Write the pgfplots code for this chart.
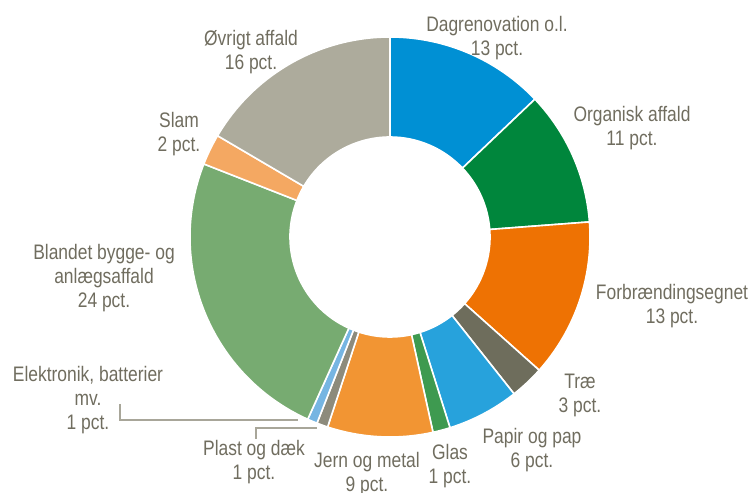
\documentclass[border=0pt]{standalone}
\usepackage{fontspec}
\setmainfont{Liberation Sans}[FakeStretch=0.83]
\usepackage{pgfplots}
\usepackage{pgfplotstable}
\pgfplotsset{compat=1.18}

\definecolor{cDag}{HTML}{0090D4}
\definecolor{cOrg}{HTML}{00863C}
\definecolor{cForb}{HTML}{EE7203}
\definecolor{cTrae}{HTML}{6E6D5C}
\definecolor{cPap}{HTML}{27A2DC}
\definecolor{cGlas}{HTML}{3E9A50}
\definecolor{cJern}{HTML}{F29533}
\definecolor{cPlast}{HTML}{8D8B7C}
\definecolor{cElek}{HTML}{76B5E2}
\definecolor{cBland}{HTML}{77AB71}
\definecolor{cSlam}{HTML}{F4A862}
\definecolor{cOevr}{HTML}{ADAB9C}
\definecolor{txt}{HTML}{706D5F}
\definecolor{lead}{HTML}{A8A699}

\tikzset{lbl/.style={font=\fontsize{21bp}{24bp}\selectfont,text=txt,align=center,inner sep=0pt,anchor=center}}

% shares in percent, clockwise from twelve o'clock
\pgfplotstableread{
value col
12.9  cDag
10.9  cOrg
12.8  cForb
2.75  cTrae
5.8   cPap
1.4   cGlas
8.5   cJern
0.9   cPlast
0.8   cElek
24.2  cBland
2.5   cSlam
16.55 cOevr
}\shares

\begin{document}
\begin{tikzpicture}
\begin{axis}[x=1bp,y=1bp,xmin=0,xmax=751,ymin=0,ymax=493,hide axis,clip=false]
\pgfplotstablegetrowsof{\shares}
\pgfmathtruncatemacro\last{\pgfplotsretval-1}
\def\cum{0}
\pgfplotsforeachungrouped \i in {0,...,\last}{%
  \pgfplotstablegetelem{\i}{value}\of\shares \let\val\pgfplotsretval
  \pgfplotstablegetelem{\i}{col}\of\shares \let\slicecol\pgfplotsretval
  \pgfmathsetmacro\angA{90-3.6*\cum}%
  \pgfmathsetmacro\angB{90-3.6*(\cum+\val)}%
  \edef\doslice{\noexpand\fill[\slicecol,draw=white,line width=1.6bp,line join=round]
    (axis cs:390,256) ++(\angA:200bp) arc[start angle=\angA,end angle=\angB,radius=200bp]
    -- ++(\angB:-100bp) arc[start angle=\angB,end angle=\angA,radius=100bp] -- cycle;}%
  \doslice
  \pgfmathsetmacro\cum{\cum+\val}%
}

% leader lines
\draw[lead,line width=1.6bp] (axis cs:120,89) -- (axis cs:120,73) -- (axis cs:298,73);
\draw[lead,line width=1.6bp] (axis cs:256,54) -- (axis cs:256,65) -- (axis cs:317,65);

\node[lbl] at (axis cs:497,455) {Dagrenovation o.l.\\13 pct.};
\node[lbl] at (axis cs:632,365) {Organisk affald\\11 pct.};
\node[lbl] at (axis cs:672,187) {Forbrændingsegnet\\13 pct.};
\node[lbl] at (axis cs:580,98) {Træ\\3 pct.};
\node[lbl] at (axis cs:532,43) {Papir og pap\\6 pct.};
\node[lbl] at (axis cs:450,27) {Glas\\1 pct.};
\node[lbl] at (axis cs:367,19) {Jern og metal\\9 pct.};
\node[lbl] at (axis cs:254,31) {Plast og dæk\\1 pct.};
\node[lbl] at (axis cs:88,93) {Elektronik, batterier\\mv.\\1 pct.};
\node[lbl] at (axis cs:104,215) {Blandet bygge- og\\anlægsaffald\\24 pct.};
\node[lbl] at (axis cs:179,359) {Slam\\2 pct.};
\node[lbl] at (axis cs:251,441) {Øvrigt affald\\16 pct.};

\coordinate (LL) at (axis cs:0,0);
\coordinate (UR) at (axis cs:751,493);
\end{axis}
\pgfresetboundingbox
\useasboundingbox (LL) rectangle (UR);
\end{tikzpicture}
\end{document}
